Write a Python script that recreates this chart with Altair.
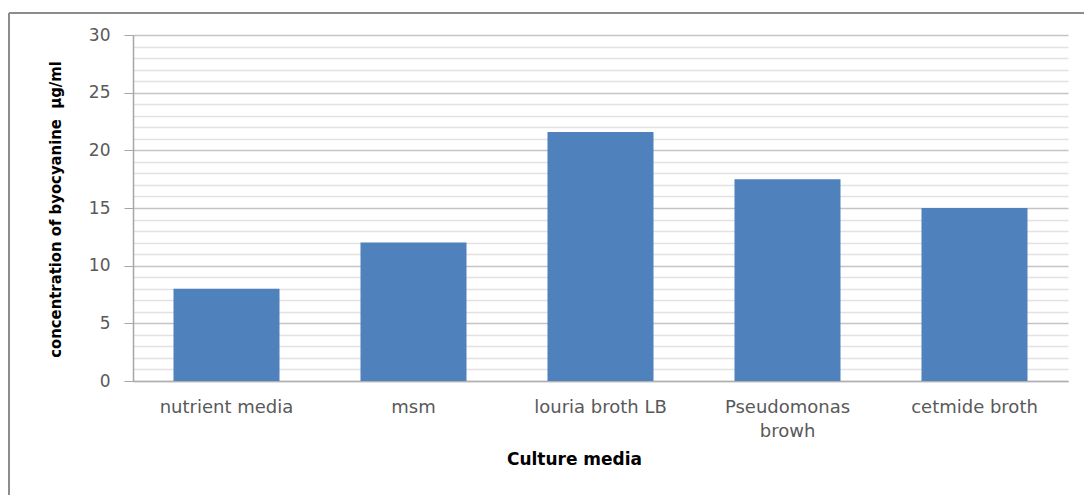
import altair as alt
import pandas as pd

# Pyocyanin yield per culture medium
media = ["nutrient media", "msm", "louria broth LB", "Pseudomonas browh", "cetmide broth"]
concentration = [8, 12, 21.6, 17.5, 15]
y_ticks = list(range(0, 31))

df = pd.DataFrame({"media": media, "conc": concentration})

W, H = 935, 346
PAD_L, PAD_T = 133, 35

label_font = "DejaVu Sans"
grey = "#595959"

bars = alt.Chart(df).mark_bar(color="#4f81bd").encode(
    x=alt.X(
        "media:N",
        sort=media,
        scale=alt.Scale(paddingInner=0.433, paddingOuter=0.2165),
        axis=alt.Axis(
            title="Culture media",
            titleFont="DejaVu Sans",
            titleFontSize=17,
            titleFontWeight="bold",
            titleColor="#000000",
            titleX=441,
            titleY=70,
            labelAngle=0,
            labelFont=label_font,
            labelFontSize=18,
            labelColor=grey,
            labelPadding=17,
            labelLineHeight=24,
            labelExpr="datum.value == 'Pseudomonas browh' ? ['Pseudomonas', 'browh'] : datum.label",
            ticks=False,
            domainColor="#b0b0b0",
            domainWidth=1.5,
            grid=False,
        ),
    ),
    y=alt.Y(
        "conc:Q",
        scale=alt.Scale(domain=[0, 30], nice=False),
        axis=alt.Axis(
            title="concentration of byocyanine\u00a0 µg/ml",
            titleFont="Liberation Sans Narrow, DejaVu Sans Condensed, sans-serif",
            titleFontSize=16.5,
            titleFontWeight="bold",
            titleColor="#000000",
            titleX=-70,
            titleY=174,
            titleAngle=-90,
            values=y_ticks,
            labelExpr="datum.value % 5 === 0 ? datum.label : ''",
            labelFont=label_font,
            labelFontSize=17,
            labelColor=grey,
            labelPadding=14,
            tickSize=9,
            tickColor={"condition": {"test": "datum.value % 5 === 0", "value": "#a6a6a6"}, "value": "rgba(0,0,0,0)"},
            domainColor="#a6a6a6",
            domainWidth=1.5,
            grid=True,
            gridColor={"condition": {"test": "datum.value % 5 === 0", "value": "#c4c4c4"}, "value": "#e2e2e2"},
            gridWidth=1.5,
        ),
    ),
)

# outer chart frame (left and top edges)
frame_left = alt.Chart(df).mark_rule(color="#8c8c8c", strokeWidth=2).encode(
    x=alt.value(9 - PAD_L), y=alt.value(13 - PAD_T), y2=alt.value(495 - PAD_T)
)
frame_top = alt.Chart(df).mark_rule(color="#8c8c8c", strokeWidth=2).encode(
    x=alt.value(9 - PAD_L), x2=alt.value(1084 - PAD_L), y=alt.value(13 - PAD_T)
)

chart = (
    alt.layer(bars, frame_left, frame_top)
    .properties(
        width=W,
        height=H,
        autosize=alt.AutoSizeParams(type="none"),
        padding={"left": PAD_L, "top": PAD_T, "right": 1084 - PAD_L - W, "bottom": 495 - PAD_T - H},
        background="white",
    )
    .configure_view(stroke=None)
)

chart.save("out.html", embed_options={"renderer": "svg", "actions": False})
